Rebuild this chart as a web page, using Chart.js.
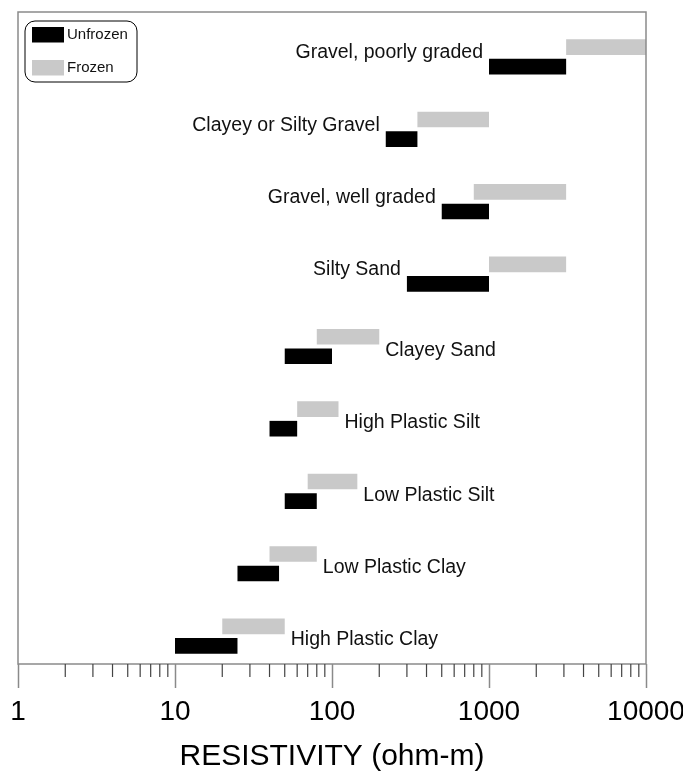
<!DOCTYPE html>
<html>
<head>
<meta charset="utf-8">
<title>Resistivity of frozen and unfrozen soils</title>
<script src="https://cdn.jsdelivr.net/npm/chart.js@4.4.1/dist/chart.umd.min.js"></script>
<style>
  html, body { margin: 0; padding: 0; background: #fff; }
  #wrap { width: 683px; height: 775px; }
</style>
</head>
<body>
<div id="wrap"><canvas id="resChart"></canvas></div>
<script>
// soil types, from the top of the chart down
const soils = [
    'Gravel, poorly graded',
    'Clayey or Silty Gravel',
    'Gravel, well graded',
    'Silty Sand',
    'Clayey Sand',
    'High Plastic Silt',
    'Low Plastic Silt',
    'Low Plastic Clay',
    'High Plastic Clay'
];

// resistivity ranges (ohm-m)
const unfrozenLow  = [1000, 220,  500,  300,  50, 40,  50, 25, 10];
const unfrozenHigh = [3100, 350,  1000, 1000, 100, 60, 80, 46, 25];
const frozenLow    = [3100, 350,  800,  1000, 80,  60, 70, 40, 20];
const frozenHigh   = [10000, 1000, 3100, 3100, 200, 110, 145, 80, 50];

const xTickValues = [1, 10, 100, 1000, 10000];
const xTickLabels = ['1', '10', '100', '1000', '10000'];

const FONT = '"Liberation Sans", Arial, Helvetica, sans-serif';

// rows counted from the bottom, so the first soil sits at the top
const rowY = soils.map((s, i) => soils.length - 1 - i);

const frozenBars = soils.map((s, i) => ({ x: [frozenLow[i], frozenHigh[i]], y: rowY[i] }));
const unfrozenBars = soils.map((s, i) => ({ x: [unfrozenLow[i], unfrozenHigh[i]], y: rowY[i] }));

// short ticks at 2..9 of every decade
const minorTicks = [];
for (let d = 1; d < 10000; d *= 10) {
    for (let m = 2; m <= 9; m++) minorTicks.push(d * m);
}

// box round the plot + the short minor ticks
const framePlugin = {
    id: 'frame',
    afterDraw(chart) {
        const { ctx, chartArea: a } = chart;
        const x = chart.scales.x;
        ctx.save();
        ctx.strokeStyle = '#8a8a8a';
        ctx.lineWidth = 1.5;
        ctx.strokeRect(a.left, a.top, a.right - a.left, a.bottom - a.top);
        ctx.strokeStyle = '#444';
        ctx.lineWidth = 1.2;
        ctx.beginPath();
        minorTicks.forEach(v => {
            const px = x.getPixelForValue(v);
            ctx.moveTo(px, a.bottom);
            ctx.lineTo(px, a.bottom + 13);
        });
        ctx.stroke();
        ctx.restore();
    }
};

// soil names next to their bars
const soilLabels = {
    id: 'soilLabels',
    afterDatasetsDraw(chart) {
        const { ctx, scales: { x, y } } = chart;
        ctx.save();
        ctx.font = '19.5px ' + FONT;
        ctx.fillStyle = '#111';
        ctx.textBaseline = 'middle';
        soils.forEach((name, i) => {
            const cy = y.getPixelForValue(rowY[i]);
            if (i < 4) {
                // the upper rows have the name on the left
                ctx.textAlign = 'right';
                ctx.fillText(name, x.getPixelForValue(unfrozenLow[i]) - 6, cy - 4);
            } else {
                ctx.textAlign = 'left';
                ctx.fillText(name, x.getPixelForValue(frozenHigh[i]) + 6, cy + 4);
            }
        });
        ctx.restore();
    }
};

// legend in a rounded box, top left inside the plot
const boxLegend = {
    id: 'boxLegend',
    afterDraw(chart) {
        const { ctx, chartArea: a } = chart;
        const left = a.left + 7, top = a.top + 9;
        ctx.save();
        ctx.strokeStyle = '#000';
        ctx.lineWidth = 1;
        ctx.beginPath();
        if (ctx.roundRect) ctx.roundRect(left, top, 112, 61, 10);
        else ctx.rect(left, top, 112, 61);
        ctx.stroke();
        [1, 0].forEach((di, k) => {
            const ds = chart.data.datasets[di];
            const sy = top + 6 + k * 33;
            ctx.fillStyle = ds.backgroundColor;
            ctx.fillRect(left + 7, sy, 32, 15.5);
            ctx.fillStyle = '#111';
            ctx.font = '15px ' + FONT;
            ctx.textAlign = 'left';
            ctx.textBaseline = 'middle';
            ctx.fillText(ds.label, left + 42, sy + 8);
        });
        ctx.restore();
    }
};

Chart.defaults.font.family = FONT;
Chart.defaults.color = '#000';

const resCtx = document.getElementById('resChart').getContext('2d');
const resChart = new Chart(resCtx, {
    type: 'bar',
    data: {
        datasets: [{
            label: 'Frozen',
            data: frozenBars,
            backgroundColor: '#c9c9c9',
            borderWidth: 0,
            categoryPercentage: 0.54,
            barPercentage: 0.8
        }, {
            label: 'Unfrozen',
            data: unfrozenBars,
            backgroundColor: '#000000',
            borderWidth: 0,
            categoryPercentage: 0.54,
            barPercentage: 0.8
        }]
    },
    options: {
        indexAxis: 'y',
        responsive: true,
        maintainAspectRatio: false,
        animation: false,
        layout: { padding: { left: 18, right: 37, top: 12, bottom: 0 } },
        scales: {
            x: {
                type: 'logarithmic',
                min: 1,
                max: 10000,
                afterBuildTicks: s => { s.ticks = xTickValues.map(v => ({ value: v, major: true })); },
                afterFit: s => { s.paddingLeft = 0; s.paddingRight = 0; },
                grid: { drawOnChartArea: false, drawTicks: true, tickLength: 24, tickColor: '#8a8a8a', tickWidth: 1.5 },
                border: { display: false },
                ticks: {
                    padding: 7,
                    color: '#000',
                    autoSkip: false,
                    maxRotation: 0,
                    font: { size: 28, lineHeight: 1.2 },
                    callback: (v, i) => xTickLabels[i]
                },
                title: {
                    display: true,
                    text: 'RESISTIVITY (ohm-m)',
                    color: '#000',
                    font: { size: 30, lineHeight: 1.2 },
                    padding: { top: 3.4, bottom: 0 }
                }
            },
            y: {
                type: 'linear',
                min: -0.385,
                max: 8.62,
                offset: false,
                display: false,
                afterBuildTicks: s => { s.ticks = rowY.map(v => ({ value: v })); }
            }
        },
        plugins: {
            legend: { display: false },
            tooltip: { enabled: false }
        }
    },
    plugins: [soilLabels, framePlugin, boxLegend]
});
</script>
</body>
</html>
